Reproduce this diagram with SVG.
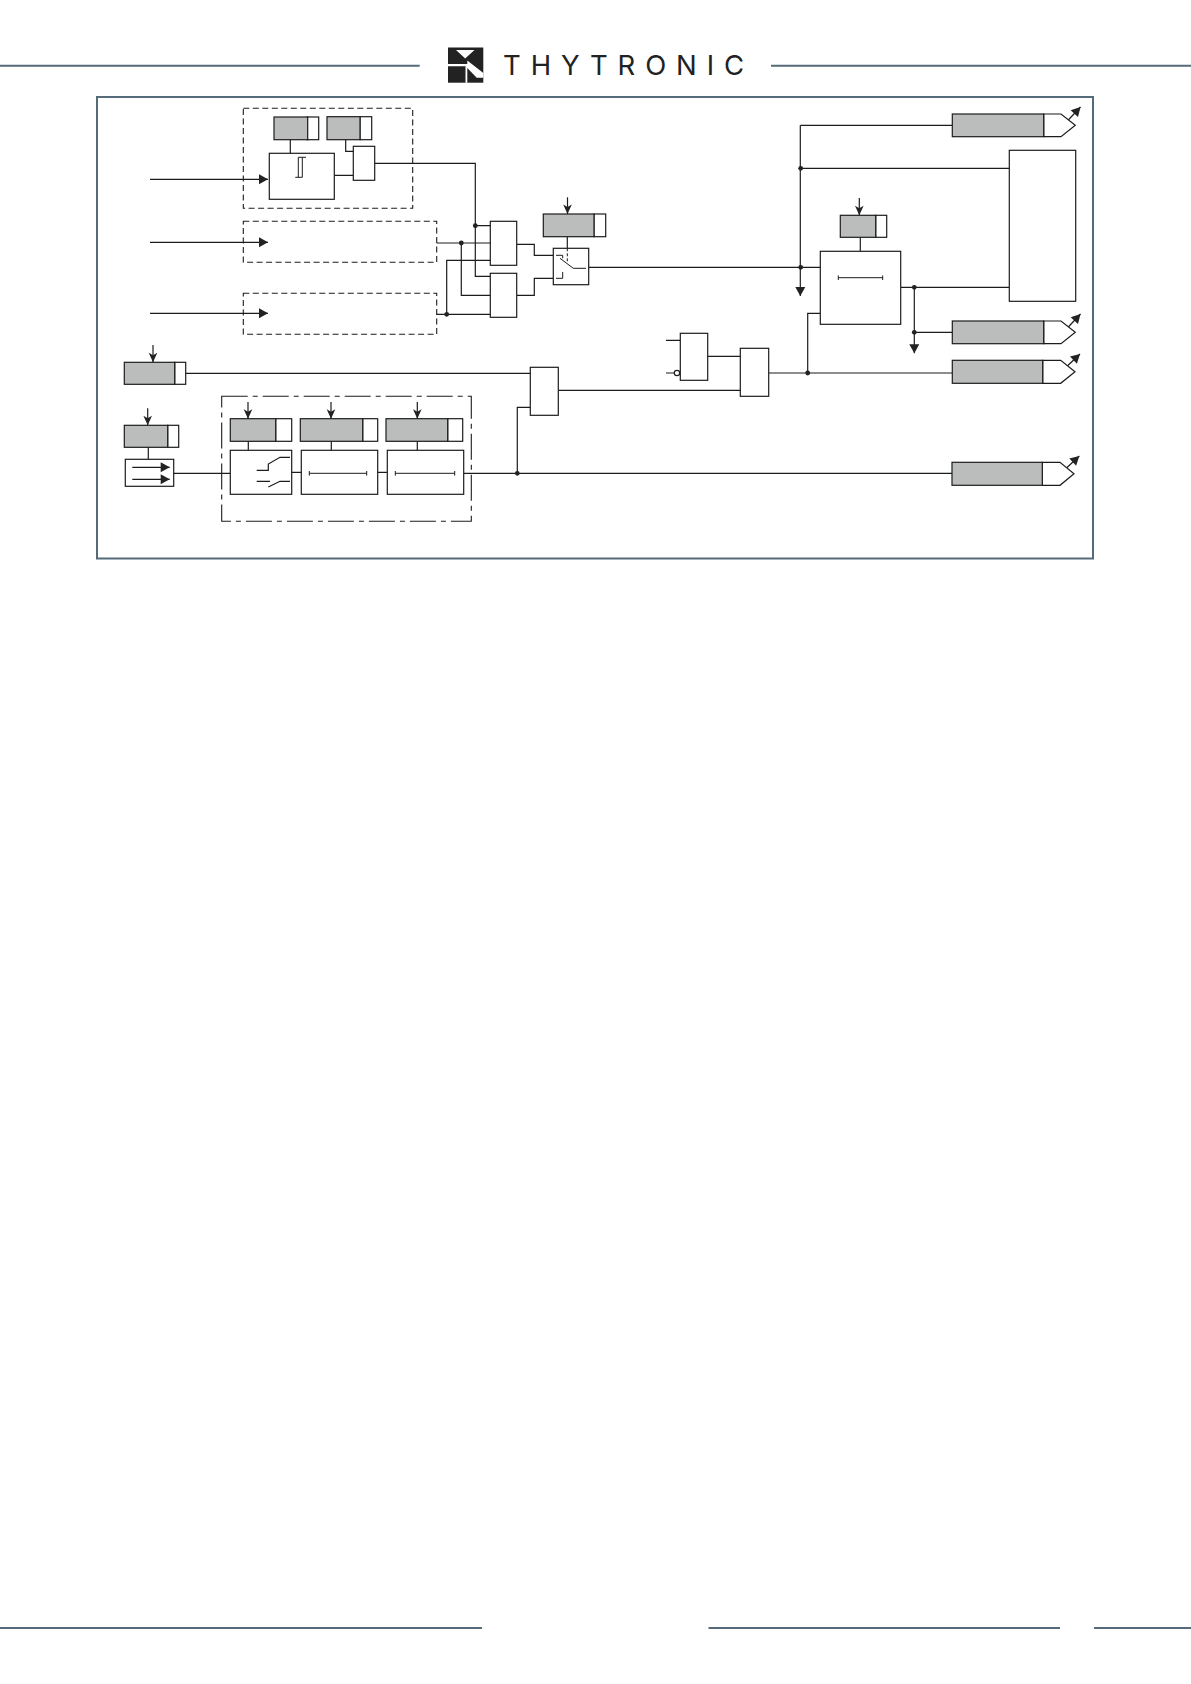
<svg xmlns="http://www.w3.org/2000/svg" width="1191" height="1684" viewBox="0 0 1191 1684">
<style>
.l{fill:none;stroke:#1c1c1c;stroke-width:1.2}
.b{fill:#fff;stroke:#1c1c1c;stroke-width:1.2}
.g{fill:#bbbdbd;stroke:#1c1c1c;stroke-width:1.2}
.d{fill:none;stroke:#1c1c1c;stroke-width:1.1;stroke-dasharray:6 3.5}
.dd{fill:none;stroke:#1c1c1c;stroke-width:1.1;stroke-dasharray:26 5 5 5}
.r{stroke:#566b7a;stroke-width:2;fill:none}
.p{fill:#222}
.o{stroke-width:1}
.s{marker-end:url(#n)}
.i{marker-end:url(#t)}
</style>
<defs>
<marker id="t" markerUnits="userSpaceOnUse" markerWidth="12" markerHeight="12" refX="9" refY="5" orient="auto" overflow="visible"><path class="p" d="M0,0 L9,5 L0,10 Z"/></marker>
<marker id="n" markerUnits="userSpaceOnUse" markerWidth="12" markerHeight="12" refX="9.5" refY="5" orient="auto" overflow="visible"><path class="p" d="M0,0.7 L9.5,5 L0,9.3 L2.5,5 Z"/></marker>
</defs>
<g id="page">
<path class="r" d="M0,65.7H419.7M771,65.7H1191M0,1628H482M708.5,1628H1060M1094,1628H1191"/>
<rect class="r" x="97" y="97" width="996" height="461.5"/>
</g>
<g id="logo">
<rect class="p" x="448" y="47.5" width="35.3" height="35.2"/>
<path fill="#fff" d="M456,50H474.5L465.2,58.5ZM448,64H467.3V82.7H465.5V66.3H448ZM467.3,60.5L483.3,73V77.7H476.7L467.3,68Z"/>
<text x="503" y="75" font-family="Inter, 'Liberation Sans', sans-serif" font-size="27.5" fill="#222" textLength="241" lengthAdjust="spacing">THYTRONIC</text>
</g>
<g id="connectors">
<path class="l i" d="M150,179.3H268"/>
<path class="l i" d="M150,242.3H268"/>
<path class="l i" d="M150,313.3H268"/>
<path class="l" d="M290.3,139.7V153.3M334.3,175.3H353.3M345.7,139.7V151.3H353.3M374.7,163.3H475.3V276.3H490.3M475.3,225.7H490.3"/>
<path class="l" d="M436.7,243H490.3M461.3,243V295.3H490.3M436.7,314.3H490.3M446.7,314.3V260.3H490.3"/>
<path class="l" d="M516.7,244.3H534.3V255.3H553.3M516.7,295.3H534.3V278.3H553.3M567.3,236.7V248.3"/>
<path class="l" d="M588.7,267.3H820.3M800.3,125.3H952.3M800.7,168.3H1009.3"/>
<path class="l i" d="M800.3,125.3V296"/>
<path class="l" d="M860.3,237.3V251.3M900.7,287.3H1009.3M914.3,332.3H952.3"/>
<path class="l i" d="M914.3,287.3V353.3"/>
<path class="l" d="M768.7,373H952.3M807.7,373V313.3H820.3M707.7,356.3H740.3M666,340.3H680.3M666,373H674.3M558.3,390.3H740.3M185.7,373.3H530.3"/>
<path class="l" d="M173.7,473.3H230.3M291.7,472.3H301.3M377.7,472.3H387.3M463.7,473.3H952M517.3,473.3V407.3H530.3M148.3,447.3V459.3M248.3,441.3V450.3M331.3,441.3V450.3M417.3,441.3V450.3"/>
<path class="l s" d="M567.5,197.3V214"/>
<path class="l s" d="M859.3,198V215.3"/>
<path class="l s" d="M153,345V362.3"/>
<path class="l s" d="M147.7,408.3V425.3"/>
<path class="l s" d="M248,402V418.7"/>
<path class="l s" d="M331,402V418.7"/>
<path class="l s" d="M417.3,402V418.7"/>
<path class="l i" d="M1068.3,120L1080.5,107"/>
<path class="l i" d="M1068.3,327L1080.5,314"/>
<path class="l i" d="M1067.3,366L1080,354"/>
<path class="l i" d="M1066.5,468L1079.3,456"/>
<g class="p"><circle cx="475.3" cy="225.7" r="2.4"/><circle cx="461.3" cy="243" r="2.4"/><circle cx="446.7" cy="314.3" r="2.4"/><circle cx="800.7" cy="168.3" r="2.4"/><circle cx="800.7" cy="267.3" r="2.4"/><circle cx="914.3" cy="287.3" r="2.4"/><circle cx="914.3" cy="332.3" r="2.4"/><circle cx="807.7" cy="373" r="2.4"/><circle cx="517.3" cy="473.3" r="2.4"/></g>
</g>
<g id="group-threshold">
<rect class="d" x="243.3" y="108.3" width="169.4" height="100"/>
<g id="setting-1"><rect class="b" x="307" y="117" width="11.7" height="22.7"/><rect class="g" x="274" y="117" width="33.7" height="22.7"/></g>
<g id="setting-2"><rect class="b" x="360" y="116.7" width="11.7" height="23"/><rect class="g" x="327" y="116.7" width="33" height="23"/></g>
<g id="threshold"><rect class="b" x="269.3" y="153.3" width="65" height="46"/><path class="l o" d="M298.3,157.3V177.3M302.3,157.3V177.3M298.3,157.3H306M295.3,177.3H302.3"/></g>
<rect id="and-a" class="b" x="353.3" y="146.3" width="21.4" height="34"/>
</g>
<rect id="group-b" class="d" x="243.3" y="221.3" width="193.4" height="41"/>
<rect id="group-c" class="d" x="243.3" y="293.3" width="193.4" height="41"/>
<rect id="and-b" class="b" x="490.3" y="221.3" width="26.4" height="44"/>
<rect id="and-c" class="b" x="490.3" y="273.3" width="26.4" height="44"/>
<g id="setting-3"><rect class="b" x="594" y="214" width="11.7" height="22.7"/><rect class="g" x="543.3" y="214" width="50.7" height="22.7"/></g>
<g id="selector"><rect class="b" x="553.3" y="248.3" width="35.4" height="36.4"/>
<path class="l o" d="M556,255.3H562.7V258.3M560,258.3L573.3,268.3H586M556,278.3H562.7V272"/><path class="l o" stroke-dasharray="3 2" d="M567.3,248.3V262"/></g>
<g id="setting-4"><rect class="b" x="875.7" y="215.3" width="11" height="22"/><rect class="g" x="840.3" y="215.3" width="35.4" height="22"/></g>
<g id="timer-a"><rect class="b" x="820.3" y="251.3" width="80.4" height="73"/><path class="l o" d="M838.3,277.7H882.7M838.3,275.5V280M882.7,275.5V280"/></g>
<rect id="latch" class="b" x="1009.3" y="150.3" width="66.4" height="151"/>
<g id="output-1"><path class="b" d="M1043.7,114H1061L1075.3,125.3L1061,136.7H1043.7Z"/><rect class="g" x="952.3" y="114" width="91.4" height="22.7"/></g>
<g id="output-2"><path class="b" d="M1043.7,321H1061L1075.3,332.3L1061,343.7H1043.7Z"/><rect class="g" x="952.3" y="321" width="91.4" height="22.7"/></g>
<g id="output-3"><path class="b" d="M1042.7,360.3H1060.7L1075,371.8L1060.7,383.3H1042.7Z"/><rect class="g" x="952.3" y="360.3" width="90.4" height="23"/></g>
<g id="output-4"><path class="b" d="M1042.3,462.3H1060L1074,473.8L1060,485.3H1042.3Z"/><rect class="g" x="952" y="462.3" width="90.3" height="23"/></g>
<g id="and-d"><rect class="b" x="680.3" y="333.3" width="27.4" height="47"/><circle class="b" cx="677" cy="373" r="2.7"/></g>
<rect id="or-a" class="b" x="740.3" y="348.3" width="28.4" height="48"/>
<rect id="and-e" class="b" x="530.3" y="367.3" width="28" height="48"/>
<g id="setting-5"><rect class="b" x="174.7" y="362.3" width="11" height="22"/><rect class="g" x="124.3" y="362.3" width="50.4" height="22"/></g>
<g id="setting-6"><rect class="b" x="167.7" y="425.3" width="11" height="22"/><rect class="g" x="124.3" y="425.3" width="43.4" height="22"/></g>
<g id="input-block"><rect class="b" x="125.3" y="459.3" width="48.4" height="27"/><path class="l i" d="M132.3,467.3H169.7"/><path class="l i" d="M132.3,479.3H169.7"/></g>
<g id="group-d">
<rect class="dd" x="221.7" y="396.3" width="249.6" height="125"/>
<g id="setting-7"><rect class="b" x="275.7" y="418.7" width="16" height="22.6"/><rect class="g" x="230.3" y="418.7" width="45.4" height="22.6"/></g>
<g id="setting-8"><rect class="b" x="362.7" y="418.7" width="15" height="22.6"/><rect class="g" x="300.3" y="418.7" width="62.4" height="22.6"/></g>
<g id="setting-9"><rect class="b" x="447.7" y="418.7" width="15" height="22.6"/><rect class="g" x="386" y="418.7" width="61.7" height="22.6"/></g>
<g id="contacts"><rect class="b" x="230.3" y="450.3" width="61.4" height="44"/><path class="l" d="M256.7,470.3H268.3V464L280,457.3H290M256.7,481.3H270M268.3,487L280,481.3H290"/></g>
<g id="timer-b"><rect class="b" x="301.3" y="450.3" width="76.4" height="44"/><path class="l o" d="M309.3,473.3H366.7M309.3,471V475.6M366.7,471V475.6"/></g>
<g id="timer-c"><rect class="b" x="387.3" y="450.3" width="76.4" height="44"/><path class="l o" d="M395.3,473.3H454.7M395.3,471V475.6M454.7,471V475.6"/></g>
</g>
</svg>
